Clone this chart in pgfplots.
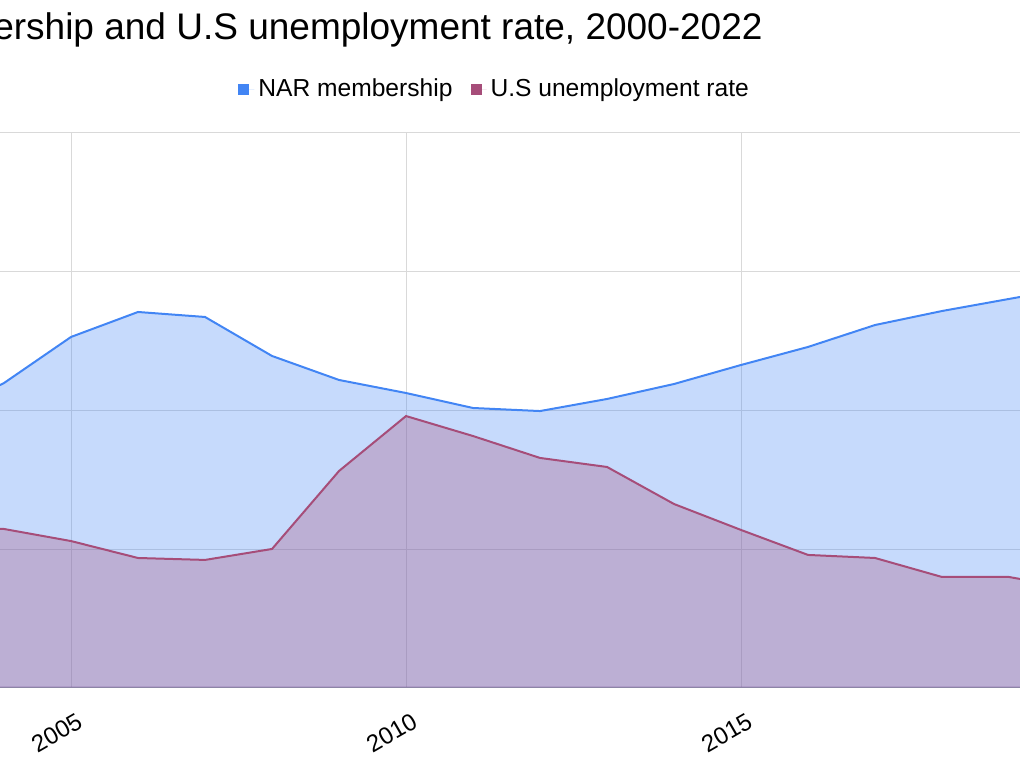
\documentclass[border=0pt]{standalone}
\usepackage{pgfplots}
\pgfplotsset{compat=1.18}
\usepackage{fontspec}
\setmainfont{Liberation Sans}
\definecolor{narblue}{HTML}{4285F4}
\definecolor{unemp}{HTML}{A64D79}
\definecolor{gridc}{HTML}{D9D9D9}
\definecolor{axiscol}{HTML}{8C85A6}
\begin{document}
\begin{tikzpicture}
\useasboundingbox (0,0) rectangle (510pt,382pt);
\clip (0,0) rectangle (510pt,382pt);
\node[anchor=base east, inner sep=0pt, font=\fontsize{18.5}{20}\selectfont] at (381.5pt,362pt) {NAR membership and U.S unemployment rate, 2000-2022};
\begin{axis}[
  at={(0pt,38pt)}, anchor=south west,
  scale only axis, width=510pt, height=277.5pt,
  xmin=2003.940, xmax=2019.164, ymin=0, ymax=4,
  axis line style={draw=none},
  xtick={2005,2010,2015}, ytick={0,1,2,3,4}, yticklabels={},
  grid=major, major grid style={gridc, line width=0.5pt},
  major tick length=0pt,
  /pgf/number format/.cd, 1000 sep={}, assume math mode=true, /pgfplots/.cd,
  xticklabel style={rotate=30, anchor=north east, font=\fontsize{12}{14}\selectfont, yshift=-8pt, xshift=-0.5pt},
  legend columns=2,
  legend style={draw=none, fill=none, at={(rel axis cs:0.2333,1.079)}, anchor=west,
    font=\fontsize{12.3}{14}\selectfont, inner sep=0pt,
    /tikz/every even column/.append style={column sep=7pt}},
  legend image code/.code={\fill[#1] (0pt,-2.75pt) rectangle (5.5pt,2.75pt); \path (0pt,0pt) -- (8pt,0pt);},
]
\addplot[draw=narblue, line width=1pt, fill=narblue, fill opacity=0.3, forget plot] coordinates {
(2003,1.960) (2004,2.198) (2005,2.530) (2006,2.710) (2007,2.674) (2008,2.393)
(2009,2.220) (2010,2.126) (2011,2.018) (2012,1.996) (2013,2.083) (2014,2.191)
(2015,2.328) (2016,2.458) (2017,2.616) (2018,2.717) (2019,2.804) (2020,2.890)
} \closedcycle;
\addplot[draw=unemp, line width=1pt, fill=unemp, fill opacity=0.3, forget plot] coordinates {
(2003,1.146) (2004,1.146) (2005,1.059) (2006,0.937) (2007,0.923) (2008,1.002)
(2009,1.564) (2010,1.960) (2011,1.816) (2012,1.658) (2013,1.593) (2014,1.326)
(2015,1.139) (2016,0.959) (2017,0.937) (2018,0.800) (2019,0.800) (2020,0.714)
} \closedcycle;
\draw[axiscol, line width=0.75pt] (rel axis cs:0,0) -- (rel axis cs:1,0);
\addlegendimage{fill=narblue, draw=none}
\addlegendentry{NAR membership}
\addlegendimage{fill=unemp, draw=none}
\addlegendentry{U.S unemployment rate}
\end{axis}
\end{tikzpicture}
\end{document}
